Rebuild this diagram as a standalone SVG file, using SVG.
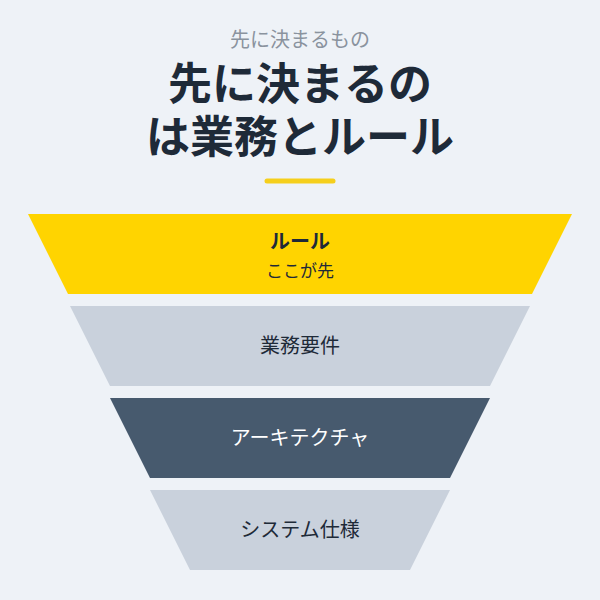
<svg xmlns="http://www.w3.org/2000/svg" width="600" height="600" viewBox="0 0 600 600">
  <style>
    text { font-family: "Noto Sans CJK JP", "Noto Sans", sans-serif; text-anchor: middle; }
    .sub { font-size: 20px; fill: #8a939e; }
    .title { font-size: 44px; font-weight: 700; fill: #1e2a38; }
    .lbl { font-size: 20px; fill: #1e2a38; }
    .lblw { font-size: 20px; fill: #ffffff; }
    .lblb { font-size: 20px; font-weight: 700; fill: #1e2a38; }
    .small { font-size: 17px; fill: #1e2a38; }
  </style>
  <rect width="600" height="600" fill="#eef2f7"/>
  <g id="header">
    <text class="sub" x="300" y="47">先に決まるもの</text>
    <text class="title" x="300" y="100">先に決まるの</text>
    <text class="title" x="300" y="153">は業務とルール</text>
    <line x1="267" y1="181" x2="333" y2="181" stroke="#f5cf1c" stroke-width="5" stroke-linecap="round"/>
  </g>
  <g id="rule">
    <polygon points="28,214 572,214 532,294 68,294" fill="#ffd400"/>
    <text class="lblb" x="300" y="249">ルール</text>
    <text class="small" x="300" y="277">ここが先</text>
  </g>
  <g id="business">
    <polygon points="70,306 530,306 490,386 110,386" fill="#c9d1dc"/>
    <text class="lbl" x="300" y="353">業務要件</text>
  </g>
  <g id="architecture">
    <polygon points="110,398 490,398 450,478 150,478" fill="#475a6e"/>
    <text class="lblw" x="300" y="445">アーキテクチャ</text>
  </g>
  <g id="system">
    <polygon points="150,490 450,490 410,570 190,570" fill="#c9d1dc"/>
    <text class="lbl" x="300" y="537">システム仕様</text>
  </g>
  <g id="connectors"/>
</svg>
